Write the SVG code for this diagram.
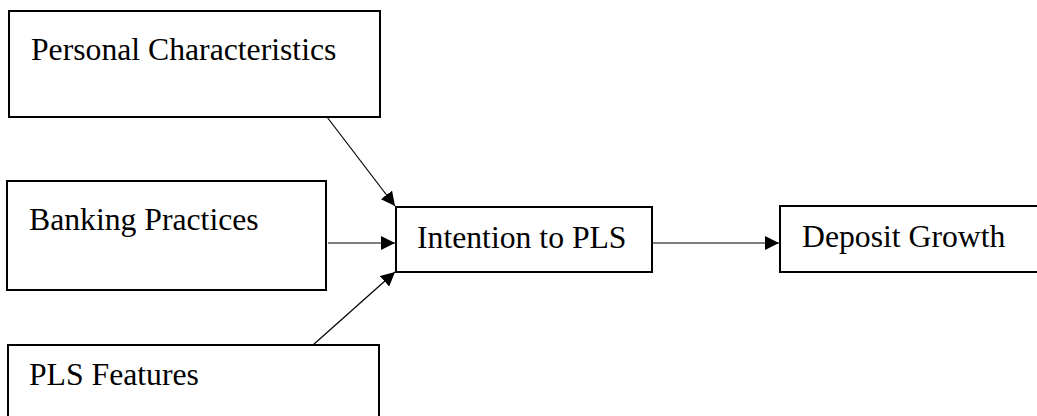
<svg xmlns="http://www.w3.org/2000/svg" width="1037" height="416" viewBox="0 0 1037 416">
<style>
.box{fill:#fff;stroke:#000;stroke-width:2}
.lbl{font-family:"Liberation Serif","Times New Roman",serif;font-size:31.7px;fill:#000}
.con{stroke:#000;stroke-width:1.2;fill:none}
</style>
<defs>
<marker id="ah" viewBox="0 0 10 10" refX="10" refY="5" markerWidth="14" markerHeight="14" markerUnits="userSpaceOnUse" orient="auto">
<path d="M0,0 L10,5 L0,10 z" fill="#000"/>
</marker>
</defs>
<rect width="1037" height="416" fill="#fff"/>
<g id="personal">
<rect class="box" x="9" y="11" width="371" height="106"/>
<text class="lbl" x="31" y="60">Personal Characteristics</text>
</g>
<g id="banking">
<rect class="box" x="7" y="181" width="319" height="109"/>
<text class="lbl" x="29" y="230">Banking Practices</text>
</g>
<g id="pls">
<rect class="box" x="8" y="345" width="371" height="80"/>
<text class="lbl" x="29" y="385">PLS Features</text>
</g>
<g id="intention">
<rect class="box" x="396" y="207" width="256" height="65"/>
<text class="lbl" x="417" y="248">Intention to PLS</text>
</g>
<g id="deposit">
<rect class="box" x="780" y="206" width="270" height="66"/>
<text class="lbl" x="802" y="247">Deposit Growth</text>
</g>
<g id="connectors">
<line class="con" x1="327" y1="117" x2="395" y2="206" marker-end="url(#ah)"/>
<line class="con" x1="328" y1="243" x2="395" y2="243" marker-end="url(#ah)"/>
<line class="con" x1="313" y1="345" x2="395" y2="272" marker-end="url(#ah)"/>
<line class="con" x1="652" y1="243" x2="779" y2="243" marker-end="url(#ah)"/>
</g>
</svg>
